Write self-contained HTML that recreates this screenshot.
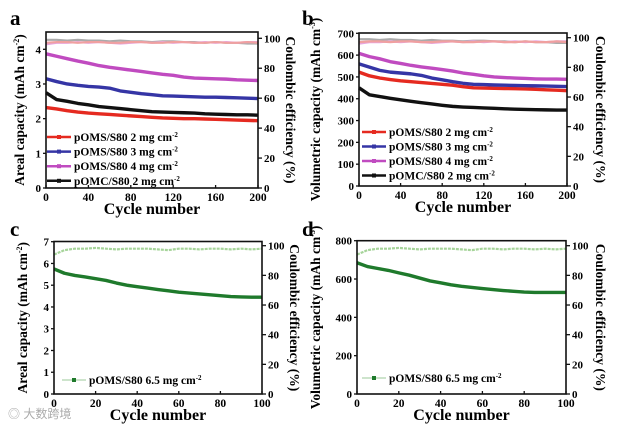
<!DOCTYPE html>
<html><head><meta charset="utf-8"><style>
html,body{margin:0;padding:0;background:#fff;}
svg{display:block;font-family:"Liberation Serif",serif;}
</style></head><body>
<svg id="fig" width="622" height="431" viewBox="0 0 622 431" xmlns="http://www.w3.org/2000/svg"></svg>
<script>
// ---- data ----
const cyclesAB = [0,10,20,30,40,50,60,70,80,90,100,110,120,130,140,150,160,170,180,190,200];
const cyclesCD = [0,5,10,15,20,25,30,35,40,45,50,55,60,65,70,75,80,85,90,95,100];
const aRed = [2.32,2.28,2.23,2.19,2.16,2.14,2.12,2.10,2.08,2.06,2.04,2.02,2.01,2.00,2.00,1.99,1.98,1.97,1.96,1.95,1.94];
const aBlue = [3.15,3.07,3.00,2.96,2.93,2.91,2.88,2.80,2.76,2.72,2.69,2.66,2.65,2.64,2.63,2.62,2.62,2.61,2.60,2.59,2.58];
const aMag = [3.87,3.80,3.73,3.66,3.60,3.53,3.48,3.44,3.40,3.36,3.32,3.28,3.25,3.20,3.17,3.16,3.15,3.14,3.12,3.11,3.10];
const aBlack = [2.75,2.55,2.50,2.44,2.40,2.35,2.32,2.29,2.26,2.23,2.20,2.19,2.18,2.17,2.16,2.14,2.13,2.12,2.11,2.11,2.10];
const bRed = [522,505,495,488,482,478,474,470,466,462,455,450,449,448,447,446,445,443,441,439,437];
const bBlue = [560,545,530,522,518,514,507,495,487,478,471,466,465,463,462,461,460,459,458,457,456];
const bMag = [608,593,583,570,562,553,546,540,534,527,518,512,505,500,497,495,493,491,490,490,489];
const bBlack = [450,418,410,402,395,388,382,376,370,365,362,360,358,356,354,352,351,350,349,348,348];
const ceGray = [99,99,98.5,99,98.5,98.5,98,98.5,98,98,97.5,98,98,97.5,97.5,97,97.5,97,97,96.5,96.5];
const cePink = [96,97,97,97.5,97,97.5,97,96.5,97,97.5,97,97.5,97,97.5,97,97.5,97,97.5,97,97.5,97.5];
const ceRed = [97,97.5,97.5,97,97.5,97.5,97,97,97.5,97.5,97,97,97.5,97.5,97,97,97.5,97,97,97.5,97];
const cCap = [5.75,5.55,5.45,5.38,5.30,5.22,5.10,5.00,4.93,4.87,4.80,4.74,4.68,4.64,4.60,4.56,4.52,4.48,4.46,4.45,4.45];
const dCap = [685,665,655,645,632,620,605,590,580,570,562,556,550,545,540,536,532,530,530,530,530];
const ceGreen = [94,97,98,98,98.5,98,97.5,98,98,98,97.5,97,98,98,97.5,98,98,97.5,98,97.5,98];
const ticksA = [0,1,2,3,4];
const ticksB = [0,100,200,300,400,500,600,700];
const ticksC = [0,1,2,3,4,5,6,7];
const ticksD = [0,200,400,600,800];
const ticksX200 = [0,40,80,120,160,200];
const ticksX100 = [0,20,40,60,80,100];
const ticksCE = [0,20,40,60,80,100];
const legendAB = ["pOMS/S80 2 mg cm","pOMS/S80 3 mg cm","pOMS/S80 4 mg cm","pOMC/S80 2 mg cm"];
const legendCD = ["pOMS/S80 6.5 mg cm"];

const NS="http://www.w3.org/2000/svg";
const svg=document.getElementById('fig');
function mk(tag,attrs,parent,txt){const e=document.createElementNS(NS,tag);for(const k in attrs)e.setAttribute(k,attrs[k]);if(txt!==undefined)e.textContent=txt;(parent||svg).appendChild(e);return e;}

function panel(p){
  const g=mk('g',{});
  
  
  const X=v=>p.x0+(v-p.xmin)/(p.xmax-p.xmin)*(p.x1-p.x0);
  const Y=v=>p.y0-(v/p.ymax)*(p.y0-p.ytopV);
  const YR=v=>p.y0-(v/100)*(p.y0-p.yR100);
  p.ce.forEach(s=>{
    const pts=p.cx.map((c,i)=>X(c)+','+YR(s.v[i])).join(' ');
    const l=mk('polyline',{points:pts,fill:'none',stroke:s.c,'stroke-width':2.2,'stroke-dasharray':s.dash||'none'},g);
    
    
  });
  p.series.forEach(s=>{
    const pts=p.cx.map((c,i)=>X(c)+','+Y(s.v[i])).join(' ');
    const l=mk('polyline',{points:pts,fill:'none',stroke:s.c,'stroke-width':3.4,'stroke-linejoin':'round'},g);
    
    
  });
  const fr=mk('rect',{x:p.x0,y:p.ytop,width:p.x1-p.x0,height:p.y0-p.ytop,fill:'none',stroke:'#111','stroke-width':1.6},g);
  
  
  p.xt.forEach(t=>{
    mk('line',{x1:X(t),x2:X(t),y1:p.y0,y2:p.y0-3,stroke:'#111','stroke-width':1.3},g);
    const tl=mk('text',{x:X(t),y:p.y0+13,'text-anchor':'middle','font-size':11.5,'font-weight':'bold'},g,t);
    
    
  });
  p.yt.forEach(t=>{
    mk('line',{x1:p.x0-3,x2:p.x0,y1:Y(t),y2:Y(t),stroke:'#111','stroke-width':1.3},g);
    const tl=mk('text',{x:p.x0-5,y:Y(t)+4,'text-anchor':'end','font-size':11,'font-weight':'bold'},g,t);
    
    
  });
  ticksCE.forEach(t=>{
    mk('line',{x1:p.x1,x2:p.x1+4,y1:YR(t),y2:YR(t),stroke:'#111','stroke-width':1.3},g);
    const tl=mk('text',{x:p.x1+6,y:YR(t)+4,'font-size':11,'font-weight':'bold'},g,t);
    
    
  });
  const xt=mk('text',{x:(p.x0+p.x1)/2,y:p.y0+26,'text-anchor':'middle','font-size':16,'font-weight':'bold'},g,'Cycle number');
  
  
  const yl=mk('text',{transform:`translate(${p.ylx},${(p.y0+p.ytop)/2}) rotate(-90)`,'text-anchor':'middle','font-size':13.5,'font-weight':'bold'},g);
  
  
  mk('tspan',{},yl,p.ylabel+' (mAh cm');
  mk('tspan',{'font-size':8,dy:-5},yl,'-'+p.exp);
  mk('tspan',{dy:5},yl,')');
  const yr=mk('text',{transform:`translate(${p.yrx},${(p.y0+p.ytop)/2}) rotate(90)`,'text-anchor':'middle','font-size':13.5,'font-weight':'bold'},g,'Coulombic efficiency (%)');
  
  
  const lt=mk('text',{x:p.lx,y:p.ly,'font-size':21,'font-weight':'bold'},g,p.id);
  
  
  p.leg.forEach((s,i)=>{
    const yy=p.legY+i*p.legDy;
    const lg=mk('g',{},g);
    
    
    mk('line',{x1:p.legX,x2:p.legX+24,y1:yy,y2:yy,stroke:s.c,'stroke-width':s.w||2.5},lg);
    mk('rect',{x:p.legX+10,y:yy-2,width:4,height:4,fill:s.mc||s.c},lg);
    const t=mk('text',{x:p.legX+27,y:yy+4,'font-size':11.5,'font-weight':'bold'},lg,s.t);
    mk('tspan',{'font-size':7,dy:-4},t,'-2');
  });
}

const serAB=[{c:'#e52a20',n:'2mg'},{c:'#3535a5',n:'3mg'},{c:'#c04bc0',n:'4mg'},{c:'#111',n:'pomc'}];
const ceAB=[{v:ceGray,c:'#aaa',n:'gray'},{v:cePink,c:'#e7a6e0',n:'pink'},{v:ceRed,c:'#f0a0a0',n:'red'}];

panel({id:'a',x0:46,x1:258,xmin:0,xmax:200,y0:188,ytop:32,ytopV:49.3,ymax:4,yR100:38.3,cx:cyclesAB,xt:ticksX200,yt:ticksA,
  series:[{v:aRed,...serAB[0]},{v:aBlue,...serAB[1]},{v:aMag,...serAB[2]},{v:aBlack,...serAB[3]}],ce:ceAB,
  ylabel:'Areal capacity',exp:'2',ylx:24,yrx:286,lx:10,ly:25,legX:47,legY:137,legDy:14.6,
  leg:legendAB.map((t,i)=>({t,c:serAB[i].c}))});
panel({id:'b',x0:359,x1:567,xmin:0,xmax:200,y0:186,ytop:33,ytopV:33.3,ymax:700,yR100:37.7,cx:cyclesAB,xt:ticksX200,yt:ticksB,
  series:[{v:bRed,...serAB[0]},{v:bBlue,...serAB[1]},{v:bMag,...serAB[2]},{v:bBlack,...serAB[3]}],ce:ceAB,
  ylabel:'Volumetric capacity',exp:'3',ylx:320,yrx:596,lx:302,ly:25,legX:362,legY:132,legDy:14.5,
  leg:legendAB.map((t,i)=>({t,c:serAB[i].c}))});
panel({id:'c',x0:54,x1:262,xmin:0,xmax:100,y0:394,ytop:241.5,ytopV:241.7,ymax:7,yR100:245.7,cx:cyclesCD,xt:ticksX100,yt:ticksC,
  series:[{v:cCap,c:'#1f7a2c',n:'6.5mg'}],ce:[{v:ceGreen,c:'#a6d49a',n:'green',dash:'3 1'}],
  ylabel:'Areal capacity',exp:'2',ylx:27,yrx:290,lx:10,ly:236,legX:62,legY:380,legDy:14,
  leg:legendCD.map(t=>({t,c:'#9bc99a',w:1,mc:'#1f7a2c'}))});
panel({id:'d',x0:357,x1:566,xmin:0,xmax:100,y0:394,ytop:240.7,ytopV:240.7,ymax:800,yR100:245.7,cx:cyclesCD,xt:ticksX100,yt:ticksD,
  series:[{v:dCap,c:'#1f7a2c',n:'6.5mg'}],ce:[{v:ceGreen,c:'#a6d49a',n:'green',dash:'3 1'}],
  ylabel:'Volumetric capacity',exp:'3',ylx:320,yrx:596,lx:302,ly:236,legX:362,legY:378,legDy:14,
  leg:legendCD.map(t=>({t,c:'#9bc99a',w:1,mc:'#1f7a2c'}))});

const wm=mk('text',{x:8,y:418,'font-size':12,fill:'#aaa','font-family':'"Liberation Sans","Noto Sans CJK SC",sans-serif'},svg,'◎ 大数跨境');


</script>
</body></html>
